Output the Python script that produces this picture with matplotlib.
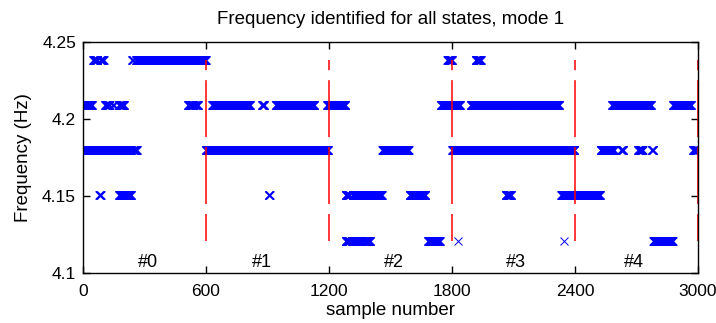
import numpy as np
import matplotlib
matplotlib.use("Agg")
import matplotlib.pyplot as plt

plt.rcParams['font.family'] = ['Liberation Sans', 'DejaVu Sans']
plt.rcParams['lines.scale_dashes'] = False

# Frequency levels (Hz) and runs of sample numbers where each level was identified
levels = [4.2383, 4.2090, 4.1797, 4.1504, 4.1211]
runs_4238 = [(50, 70), (85, 100), (240, 245), (258, 599), (1778, 1800), (1915, 1941)]
runs_4209 = [(0, 44), (107, 130), (145, 150), (175, 200), (512, 540), (548, 561),
             (630, 815), (873, 883), (940, 1128), (1190, 1280), (1745, 1839),
             (1891, 2086), (2096, 2183), (2193, 2323), (2580, 2771), (2878, 2966)]
runs_4180 = [(0, 235), (245, 262), (598, 680), (688, 880), (888, 1000), (1006, 1110),
             (1118, 1195), (1460, 1588), (1801, 1924), (1932, 2070), (2078, 2152),
             (2160, 2397), (2525, 2590), (2625, 2635), (2707, 2730), (2775, 2782),
             (2976, 3000)]
runs_4150 = [(80, 86), (176, 234), (905, 910), (1281, 1300), (1315, 1458),
             (1593, 1670), (2062, 2088), (2333, 2368), (2374, 2522)]
runs_4121 = [(1281, 1300), (1312, 1360), (1370, 1401), (1683, 1741), (1827, 1827),
             (2346, 2346), (2782, 2876)]
all_runs = [runs_4238, runs_4209, runs_4180, runs_4150, runs_4121]

boundaries = [600, 1200, 1800, 2400, 3000]
state_labels = ['#0', '#1', '#2', '#3', '#4']
state_label_x = [317, 873, 1517, 2112, 2685]
state_label_y = 4.1068

xticks = [0, 600, 1200, 1800, 2400, 3000]
yticks = [4.1, 4.15, 4.2, 4.25]
yticklabels = ['4.1', '4.15', '4.2', '4.25']

fig = plt.figure(figsize=(7.16, 3.23), dpi=100)
ax = fig.add_axes([83/716, 1 - 273/323, 615/716, 231/323])

for lev, runs in zip(levels, all_runs):
    xs = np.concatenate([np.arange(a, b + 1) for a, b in runs])
    ax.plot(xs, np.full(xs.shape, lev), linestyle='none', marker='x',
            color='#0000ff', markersize=5.5, markeredgewidth=0.7, clip_on=True)

ax.vlines(boundaries, min(levels), max(levels), colors='#ff0000', linewidth=1.1,
          linestyles=[(21.6, (41.0, 7.2))])

for lab, lx in zip(state_labels, state_label_x):
    ax.text(lx, state_label_y, lab, ha='center', va='center', fontsize=13)

ax.set_xlim(0, 3000)
ax.set_ylim(4.1, 4.25)
ax.set_xticks(xticks)
ax.set_xticklabels([str(t) for t in xticks])
ax.set_yticks(yticks)
ax.set_yticklabels(yticklabels)
ax.tick_params(direction='in', top=True, right=True, length=5, width=1, labelsize=12.5)
ax.tick_params(axis='x', pad=8)
ax.tick_params(axis='y', pad=5)
for s in ax.spines.values():
    s.set_linewidth(1.0)
ax.set_title('Frequency identified for all states, mode 1', fontsize=13.5, pad=13)
ax.set_xlabel('sample number', fontsize=13.5, labelpad=2)
ax.set_ylabel('Frequency (Hz)', fontsize=13.5, labelpad=7)

fig.savefig('out.png', dpi=100)
